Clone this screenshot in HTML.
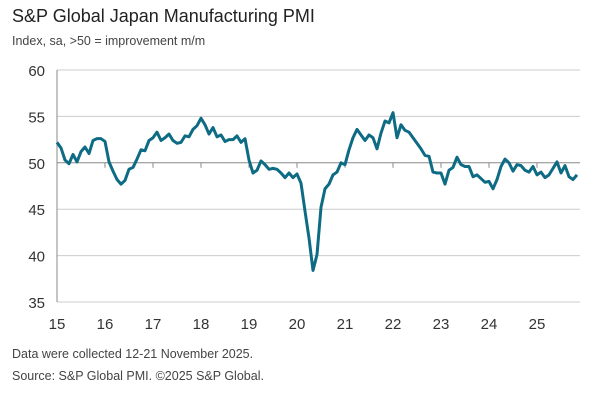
<!DOCTYPE html>
<html><head><meta charset="utf-8"><style>
body{margin:0;background:#fff;font-family:"Liberation Sans",sans-serif;}
#wrap{position:relative;width:600px;height:400px;overflow:hidden;}
.t{position:absolute;white-space:nowrap;color:#333;}
</style></head><body>
<div id="wrap">
<div class="t" style="left:12px;top:6px;font-size:18px;color:#222">S&amp;P Global Japan Manufacturing PMI</div>
<div class="t" style="left:12px;top:34px;font-size:12.5px;color:#444">Index, sa, &gt;50 = improvement m/m</div>
<svg id="svg" width="600" height="400" style="position:absolute;left:0;top:0"></svg>
<div class="t" style="left:12px;top:347px;font-size:12.5px;color:#444">Data were collected 12-21 November 2025.</div>
<div class="t" style="left:12px;top:369px;font-size:12.5px;color:#444">Source: S&amp;P Global PMI. ©2025 S&amp;P Global.</div>
</div>
<script>
const yearLabels=["15","16","17","18","19","20","21","22","23","24","25"];
const yTicks=[35,40,45,50,55,60];
const pmi=[52.2,51.6,50.3,49.9,50.9,50.1,51.2,51.7,51.0,52.4,52.6,52.6,
52.3,50.1,49.1,48.2,47.7,48.1,49.3,49.5,50.4,51.4,51.3,52.4,
52.7,53.3,52.4,52.7,53.1,52.4,52.1,52.2,52.9,52.8,53.6,54.0,
54.8,54.1,53.1,53.8,52.8,53.0,52.3,52.5,52.5,52.9,52.2,52.6,
50.3,48.9,49.2,50.2,49.8,49.3,49.4,49.3,48.9,48.4,48.9,48.4,
48.8,47.8,44.8,41.9,38.4,40.1,45.2,47.2,47.7,48.7,49.0,50.0,
49.8,51.4,52.7,53.6,53.0,52.4,53.0,52.7,51.5,53.2,54.5,54.3,
55.4,52.7,54.1,53.5,53.3,52.7,52.1,51.5,50.8,50.7,49.0,48.9,
48.9,47.7,49.2,49.5,50.6,49.8,49.6,49.6,48.5,48.7,48.3,47.9,
48.0,47.2,48.2,49.6,50.4,50.0,49.1,49.8,49.7,49.2,49.0,49.6,
48.7,49.0,48.4,48.7,49.4,50.1,48.9,49.7,48.5,48.2,48.7];
const NS="http://www.w3.org/2000/svg";
const svg=document.getElementById('svg');
const X0=57,MW=4,Y60=70,Y35=302,R=580;
const xs=i=>X0+i*MW;
const ys=v=>Y35-(v-35)*(Y35-Y60)/25;
function mk(t,a){const e=document.createElementNS(NS,t);for(const k in a)e.setAttribute(k,a[k]);svg.appendChild(e);return e;}
yTicks.forEach(v=>{
  const g=mk('line',{x1:X0,x2:R,y1:ys(v),y2:ys(v),stroke:v===50?'#888':'#ccc','stroke-width':1});
  
  
  const t=mk('text',{x:45,y:ys(v)+6,'text-anchor':'end','font-size':15,fill:'#333','font-family':'Liberation Sans, sans-serif'});
  t.textContent=v;
  
  
});
const ax=mk('line',{x1:X0,x2:X0,y1:Y60,y2:Y35,stroke:'#888','stroke-width':1});


yearLabels.forEach((l,i)=>{
  const x=xs(i*12);
  if(i>0){const tk=mk('line',{x1:x,x2:x,y1:ys(50),y2:ys(50)+5,stroke:'#888'});
  
  }
  const t=mk('text',{x:x,y:329,'text-anchor':'middle','font-size':15,fill:'#333','font-family':'Liberation Sans, sans-serif'});
  t.textContent=l;
  
  
});
const p=mk('polyline',{points:pmi.map((v,i)=>xs(i)+','+ys(v)).join(' '),fill:'none',stroke:'#0e6b84','stroke-width':3,'stroke-linejoin':'round'});


</script>
</body></html>
